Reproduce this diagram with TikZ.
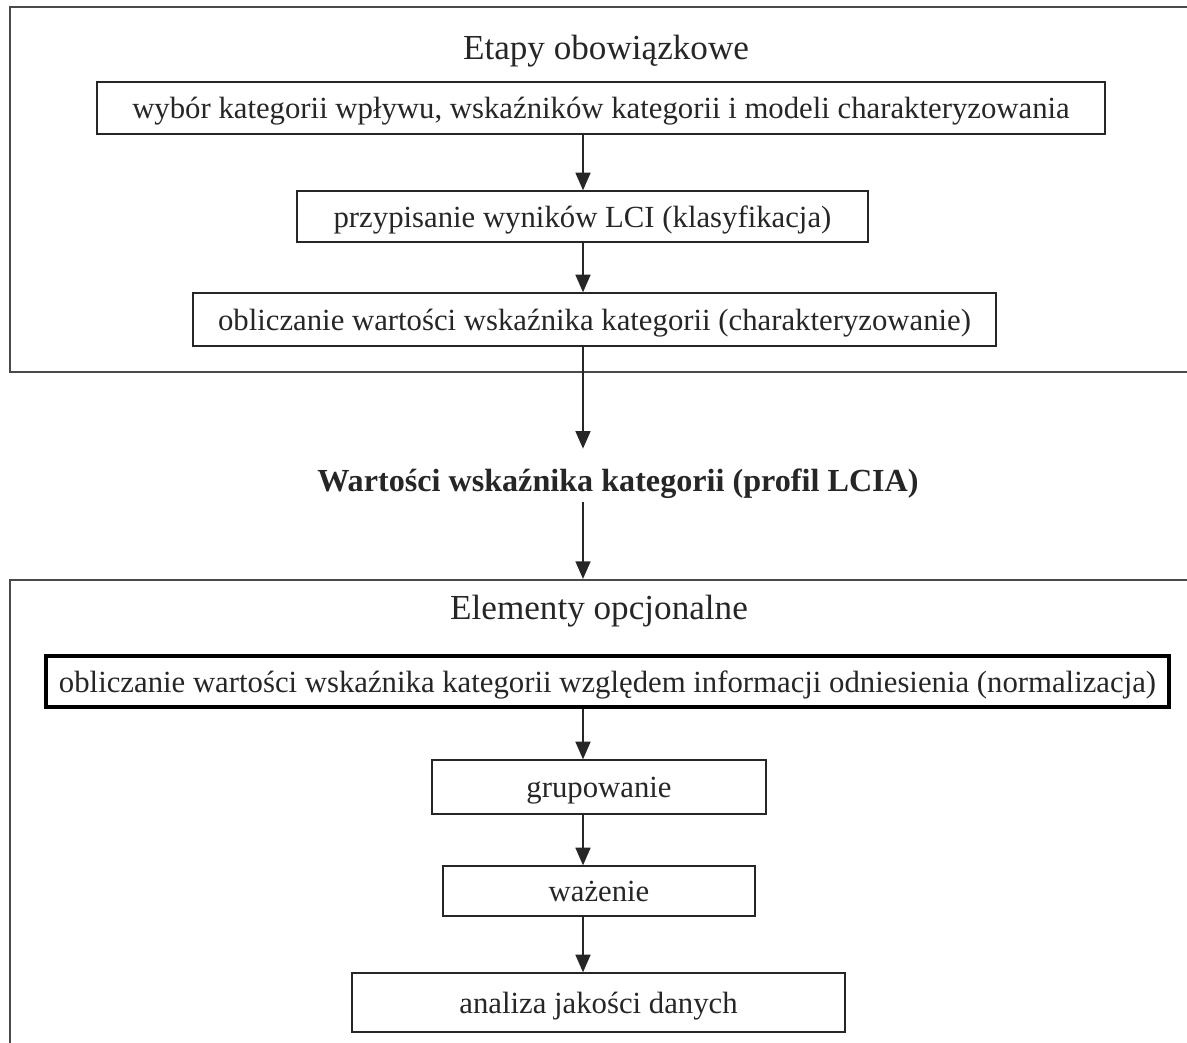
\documentclass[tikz,border=0pt]{standalone}
\usepackage{fontspec}
\setmainfont{Liberation Serif}
\usetikzlibrary{arrows.meta,calc}
\definecolor{ink}{HTML}{262626}
\definecolor{frame}{HTML}{4a4a4a}
\begin{document}
\begin{tikzpicture}[x=0.02cm,y=-0.02cm,
  every node/.style={font=\fontsize{17.5pt}{20pt}\selectfont, text=ink, inner sep=0pt},
  boxtext/.style={text height=14pt, text depth=2pt},
  stepbox/.style={boxtext, draw=ink, line width=0.8pt},
  thickbox/.style={boxtext, draw=black, line width=2pt},
  outerbox/.style={draw=frame, line width=1.3pt},
  titletext/.style={font=\fontsize{20pt}{22pt}\selectfont},
  arr/.style={draw=ink, line width=1pt, -{Triangle[width=8.5pt,length=10pt]}}
]
\useasboundingbox (0,0) rectangle (1187,1043);
\clip (0,0) rectangle (1187,1043);
% outer frames
\node[outerbox, minimum width=23.8cm, minimum height=7.3cm] (O1) at (605,189.5) {};
\node[outerbox, minimum width=23.8cm, minimum height=9.6cm] (O2) at (605,820) {};
\coordinate (ax) at (583,0);
% top part
\node[titletext] (T1) at (606,51) {Etapy obowiązkowe};
\node[stepbox, minimum width=20.16cm, minimum height=1.04cm] (A) at (601,108)
  {wybór kategorii wpływu, wskaźników kategorii i modeli charakteryzowania};
\node[stepbox, minimum width=11.42cm, minimum height=1.02cm] (B) at (582.5,216.5)
  {przypisanie wyników LCI (klasyfikacja)};
\node[stepbox, minimum width=16.06cm, minimum height=1.06cm] (C) at (594.5,319.5)
  {obliczanie wartości wskaźnika kategorii (charakteryzowanie)};
% middle
\node[font=\fontsize{18.3pt}{21pt}\selectfont\bfseries, minimum height=1.4cm] (L) at (618,484)
  {Wartości wskaźnika kategorii (profil LCIA)};
% bottom part
\node[titletext] (T2) at (599,611) {Elementy opcjonalne};
\node[thickbox, minimum width=22.46cm, minimum height=1.02cm] (D) at (607.5,681.5)
  {obliczanie wartości wskaźnika kategorii względem informacji odniesienia (normalizacja)};
\node[stepbox, minimum width=6.68cm, minimum height=1.08cm] (E) at (599,787) {grupowanie};
\node[stepbox, minimum width=6.24cm, minimum height=1.0cm] (F) at (599,891) {ważenie};
\node[stepbox, minimum width=9.86cm, minimum height=1.18cm] (G) at (598.5,1002.5) {analiza jakości danych};
% arrows
\draw[arr] (A.south -| ax) -- (B.north -| ax);
\draw[arr] (B.south -| ax) -- (C.north -| ax);
\draw[arr] (C.south -| ax) -- (L.north -| ax);
\draw[arr, shorten <=-10pt] (L.south -| ax) -- (O2.north -| ax);
\draw[arr] (D.south -| ax) -- (E.north -| ax);
\draw[arr] (E.south -| ax) -- (F.north -| ax);
\draw[arr] (F.south -| ax) -- (G.north -| ax);
\end{tikzpicture}
\end{document}
